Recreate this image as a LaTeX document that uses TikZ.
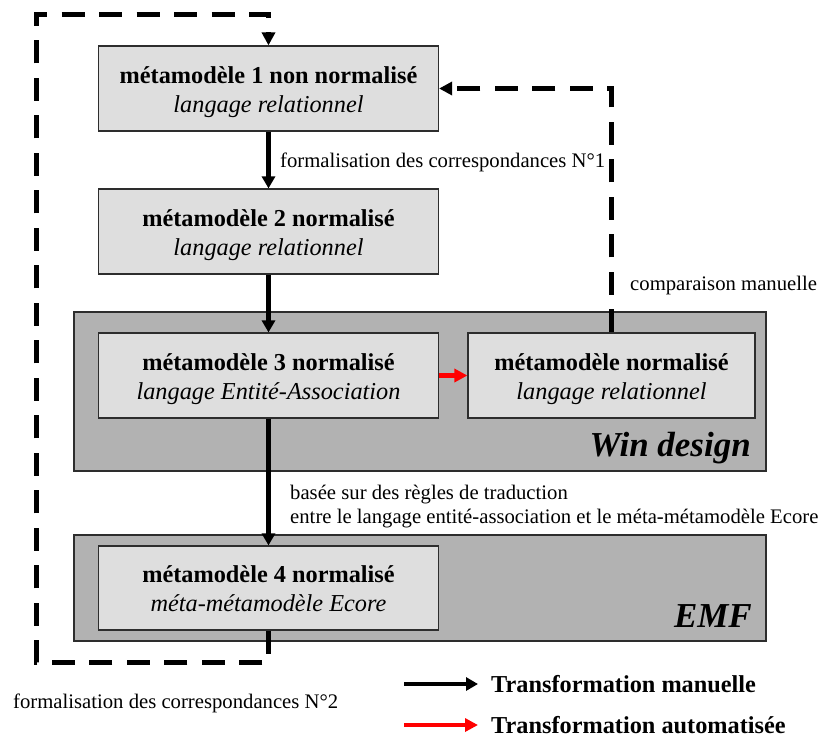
\documentclass[tikz,border=0pt]{standalone}
\usepackage{fontspec}
\setmainfont{Liberation Serif}
\usetikzlibrary{arrows.meta}
\definecolor{ink}{RGB}{0,0,0}
\definecolor{edge}{RGB}{45,45,45}
\definecolor{boxfill}{RGB}{222,222,222}
\definecolor{panel}{RGB}{178,178,178}
\definecolor{autored}{RGB}{255,0,0}
\newcommand{\mmtext}[2]{\begin{tabular}{@{}c@{}}\rule{0pt}{28pt}\textbf{#1}\\\textit{#2}\rule[-10pt]{0pt}{10pt}\end{tabular}}

\begin{document}
\begin{tikzpicture}[x=1pt,y=-1pt,
  model/.style={draw=edge,fill=boxfill,line width=1.2pt,inner sep=0pt,
    minimum width=340pt,minimum height=85pt,text=ink,font=\fontsize{24.3}{29}\selectfont},
  tool/.style={font=\fontsize{35}{40}\selectfont\bfseries\itshape,text=ink,inner sep=0pt,anchor=base east},
  lbl/.style={font=\fontsize{20.7}{24}\selectfont,text=ink,inner sep=0pt},
  keytext/.style={font=\fontsize{24.3}{29}\selectfont\bfseries,text=ink,inner xsep=13pt,inner ysep=0pt,anchor=west},
  manarrow/.style={draw=ink,line width=4.6pt,-{Triangle[length=12pt,width=13pt]}},
  autoarrow/.style={draw=autored,line width=4.2pt,-{Triangle[length=13pt,width=13pt,fill=autored]}},
  loopline/.style={draw=ink,line width=5pt,dash pattern=on 23pt off 14.5pt,-{Triangle[length=13pt,width=13pt]}}]
\useasboundingbox (0,0) rectangle (834,740);
\path[fill=panel,draw=edge,line width=1.2pt] (74,312) rectangle (766,471);
\path[fill=panel,draw=edge,line width=1.2pt] (74,535) rectangle (766,641);
\node[model] (mm1) at (268.5,88.5) {\mmtext{métamodèle 1 non normalisé}{langage relationnel}};
\node[model] (mm2) at (268.5,231.5) {\mmtext{métamodèle 2 normalisé}{langage relationnel}};
\node[model] (mm3) at (268.5,375.5) {\mmtext{métamodèle 3 normalisé}{langage Entité-Association}};
\node[model,minimum width=287pt] (mmrel) at (611.5,375.5) {\mmtext{métamodèle normalisé}{langage relationnel}};
\node[model,minimum height=84pt] (mm4) at (268.5,588) {\mmtext{métamodèle 4 normalisé}{méta-métamodèle Ecore}};
\node[tool] (windesign) at (751,456) {Win design};
\node[tool] (emf) at (752,627) {EMF};
\draw[manarrow] (mm1) -- (mm2);
\draw[manarrow] (mm2) -- (mm3);
\draw[manarrow] (mm3) -- (mm4);
\draw[autoarrow] (mm3) -- (mmrel);
\coordinate (loopbl) at (36,662);
\coordinate (looptl) at (36,14);
\draw[loopline] (mm4.south) |- (loopbl) -- (looptl) -| (mm1.north);
\draw[loopline] (mmrel.north) |- (mm1.east);
\node[lbl,anchor=base west] (corr1) at (280,167) {formalisation des correspondances N°1};
\node[lbl,anchor=base west] (compar) at (630,290) {comparaison manuelle};
\node[lbl,anchor=west,align=left] (regles) at (290,507) {basée sur des règles de traduction\\entre le langage entité-association et le méta-métamodèle Ecore};
\node[lbl,anchor=base west] (corr2) at (13,708) {formalisation des correspondances N°2};
\coordinate (keyman) at (404,684);
\coordinate (keyauto) at (404,725);
\node[keytext] (keymantxt) at (478,684) {Transformation manuelle};
\node[keytext] (keyautotxt) at (478,725) {Transformation automatisée};
\draw[manarrow] (keyman) -- (keymantxt.west);
\draw[autoarrow] (keyauto) -- (keyautotxt.west);
\end{tikzpicture}
\end{document}
